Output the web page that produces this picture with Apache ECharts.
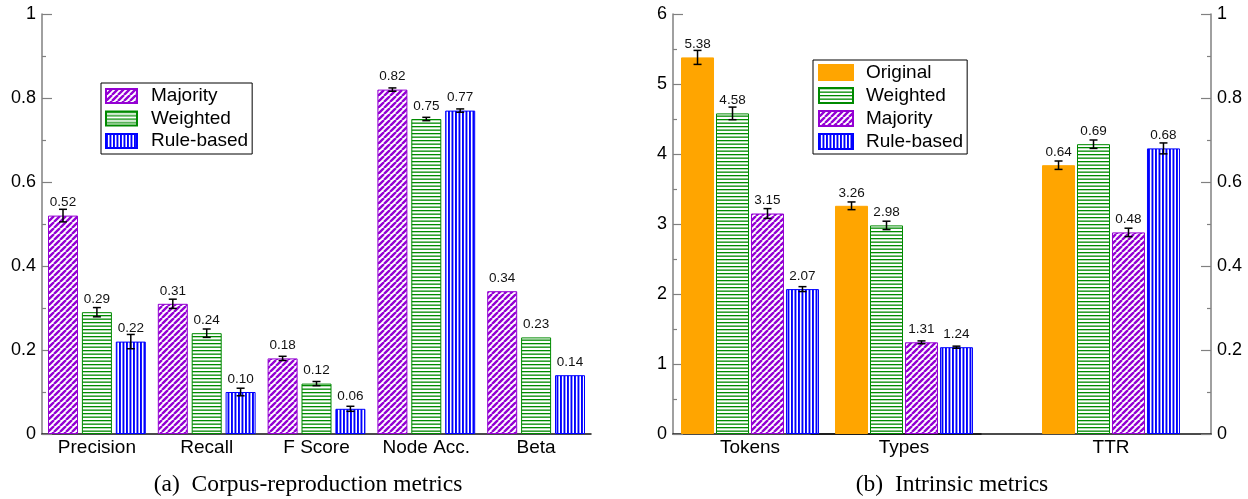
<!DOCTYPE html>
<html>
<head>
<meta charset="utf-8">
<script src="https://cdn.jsdelivr.net/npm/echarts@6/dist/echarts.min.js"></script>
<style>
  html, body { margin: 0; padding: 0; background: #fff; }
  #chart { width: 1248px; height: 499px; }
</style>
</head>
<body>
<div id="chart"></div>
<script>
// (a) Corpus-reproduction metrics
const corpusMetrics = ['Precision', 'Recall', 'F Score', 'Node Acc.', 'Beta'];
const corpusMajority = [0.52, 0.31, 0.18, 0.82, 0.34];
const corpusMajorityErr = [0.015, 0.011, 0.005, 0.004, 0];
const corpusWeighted = [0.29, 0.24, 0.12, 0.75, 0.23];
const corpusWeightedErr = [0.011, 0.010, 0.005, 0.004, 0];
const corpusRule = [0.22, 0.10, 0.06, 0.77, 0.14];
const corpusRuleErr = [0.017, 0.009, 0.006, 0.004, 0];

// (b) Intrinsic metrics: counts on the left axis, TTR on the right axis
const countMetrics = ['Tokens', 'Types'];
const ratioMetrics = ['', 'TTR'];
const countOriginal = [5.38, 3.26];
const countOriginalErr = [0.10, 0.055];
const countWeighted = [4.58, 2.98];
const countWeightedErr = [0.09, 0.06];
const countMajority = [3.15, 1.31];
const countMajorityErr = [0.07, 0.02];
const countRule = [2.07, 1.24];
const countRuleErr = [0.035, 0.015];
const ttrOriginal = 0.64, ttrOriginalErr = 0.010;
const ttrWeighted = 0.69, ttrWeightedErr = 0.010;
const ttrMajority = 0.48, ttrMajorityErr = 0.010;
const ttrRule = 0.68, ttrRuleErr = 0.013;

const leftTicks = [0, 0.2, 0.4, 0.6, 0.8, 1];
const countTicks = [0, 1, 2, 3, 4, 5, 6];

const SANS = '"Liberation Sans", Arial, Helvetica, sans-serif';
const SERIF = '"Liberation Serif", "Times New Roman", serif';
const PURPLE = '#9400d3';
const GREEN = '#008a00';
const BLUE = '#0000ff';
const ORANGE = '#ffa500';

// hatch fills
function makeTile(w, h, draw) {
  const c = document.createElement('canvas');
  c.width = w; c.height = h;
  const ctx = c.getContext('2d');
  ctx.fillStyle = '#fff';
  ctx.fillRect(0, 0, w, h);
  draw(ctx);
  return { image: c, repeat: 'repeat' };
}
const diagFill = makeTile(6, 6, ctx => {
  ctx.strokeStyle = PURPLE;
  ctx.lineWidth = 2.4;
  ctx.beginPath();
  for (let k = -1; k <= 1; k++) { ctx.moveTo(k * 6, 6); ctx.lineTo(k * 6 + 6, 0); }
  ctx.stroke();
});
const horizFill = makeTile(4, 7, ctx => {
  ctx.fillStyle = GREEN;
  ctx.fillRect(0, 0, 4, 1.3);
  ctx.fillRect(0, 3.5, 4, 1.3);
});
const vertFill = makeTile(7, 4, ctx => {
  ctx.fillStyle = BLUE;
  ctx.fillRect(0, 0, 1.9, 4);
  ctx.fillRect(3.5, 0, 1.9, 4);
});

const styles = {
  'Original': { color: ORANGE, borderColor: ORANGE, borderWidth: 1 },
  'Weighted': { color: horizFill, borderColor: GREEN, borderWidth: 1 },
  'Majority': { color: diagFill, borderColor: PURPLE, borderWidth: 1 },
  'Rule-based': { color: vertFill, borderColor: BLUE, borderWidth: 1 }
};

const valueLabel = {
  show: true, position: 'top', distance: 6,
  fontSize: 13.5, fontFamily: SANS, color: '#111',
  formatter: p => (typeof p.value === 'number' ? p.value.toFixed(2) : '')
};

function barSeries(name, xi, yi, data, width, gap) {
  return {
    type: 'bar', name, xAxisIndex: xi, yAxisIndex: yi, data,
    barWidth: width, barGap: gap, itemStyle: styles[name],
    label: valueLabel, emphasis: { disabled: true }, z: 2
  };
}

// error bars placed at the centre of the matching bar within its group
function errorSeries(xi, yi, firstIndex, values, errs, order, count, width, gapRatio) {
  return {
    type: 'custom', xAxisIndex: xi, yAxisIndex: yi, silent: true, z: 5,
    encode: { x: 0, y: 1 },
    data: values.map((v, i) => [firstIndex + i, v, errs[i]]),
    renderItem(params, api) {
      const cat = api.value(0), v = api.value(1), e = api.value(2);
      if (!e) return null;
      const total = count * width + (count - 1) * width * gapRatio;
      const dx = -total / 2 + order * width * (1 + gapRatio) + width / 2;
      const hi = api.coord([cat, v + e]);
      const lo = api.coord([cat, v - e]);
      const x = hi[0] + dx;
      const cap = 4;
      const st = { stroke: '#000', lineWidth: 1.5 };
      return {
        type: 'group',
        children: [
          { type: 'line', shape: { x1: x, y1: hi[1], x2: x, y2: lo[1] }, style: st },
          { type: 'line', shape: { x1: x - cap, y1: hi[1], x2: x + cap, y2: hi[1] }, style: st },
          { type: 'line', shape: { x1: x - cap, y1: lo[1], x2: x + cap, y2: lo[1] }, style: st }
        ]
      };
    }
  };
}

function catAxis(gi, data) {
  return {
    gridIndex: gi, type: 'category', data,
    axisLine: { show: true, lineStyle: { color: '#111', width: 1.5 } },
    axisTick: { show: false },
    axisLabel: { interval: 0, fontSize: 19, fontFamily: SANS, color: '#000', margin: 4 },
    splitLine: { show: false }
  };
}
function valAxis(gi, ticks, position) {
  return {
    gridIndex: gi, type: 'value', position,
    min: ticks[0], max: ticks[ticks.length - 1], interval: ticks[1] - ticks[0],
    axisLine: { show: true, lineStyle: { color: '#808080', width: 1.5 } },
    axisTick: { show: true, inside: true, length: 10, lineStyle: { color: '#808080', width: 1.2 } },
    minorTick: { show: true, splitNumber: 2, length: 4, lineStyle: { color: '#808080', width: 1.2 } },
    axisLabel: { fontSize: 18, fontFamily: SANS, color: '#000', margin: 6 },
    splitLine: { show: false }
  };
}

const LW = 30, LG = 0.13;   // corpus bars
const RW = 33, RG = 0.06;   // intrinsic bars

const option = {
  animation: false,
  backgroundColor: '#fff',
  grid: [
    { left: 42, width: 549, top: 14, bottom: 65 },
    { left: 673, width: 308, top: 14, bottom: 65 },
    { left: 811, width: 400, top: 14, bottom: 65 }
  ],
  xAxis: [catAxis(0, corpusMetrics), catAxis(1, countMetrics), catAxis(2, ratioMetrics)],
  yAxis: [valAxis(0, leftTicks, 'left'), valAxis(1, countTicks, 'left'), valAxis(2, leftTicks, 'right')],
  legend: [
    {
      data: ['Majority', 'Weighted', 'Rule-based'],
      orient: 'vertical', left: 101, top: 83,
      padding: [3.5, 4, 3.5, 4], itemGap: 3.5,
      itemWidth: 31, itemHeight: 14, icon: 'rect',
      borderColor: '#000', borderWidth: 1, selectedMode: false,
      textStyle: { fontSize: 19, fontFamily: SANS, color: '#000', padding: [0, 0, 0, 9] }
    },
    {
      data: ['Original', 'Weighted', 'Majority', 'Rule-based'],
      orient: 'vertical', left: 813, top: 60,
      padding: [3, 4, 3, 5], itemGap: 4,
      itemWidth: 34, itemHeight: 15, icon: 'rect',
      borderColor: '#000', borderWidth: 1, selectedMode: false,
      textStyle: { fontSize: 19, fontFamily: SANS, color: '#000', padding: [0, 0, 0, 8] }
    }
  ],
  series: [
    barSeries('Majority', 0, 0, corpusMajority, LW, '13%'),
    barSeries('Weighted', 0, 0, corpusWeighted, LW, '13%'),
    barSeries('Rule-based', 0, 0, corpusRule, LW, '13%'),
    errorSeries(0, 0, 0, corpusMajority, corpusMajorityErr, 0, 3, LW, LG),
    errorSeries(0, 0, 0, corpusWeighted, corpusWeightedErr, 1, 3, LW, LG),
    errorSeries(0, 0, 0, corpusRule, corpusRuleErr, 2, 3, LW, LG),

    barSeries('Original', 1, 1, countOriginal, RW, '6%'),
    barSeries('Weighted', 1, 1, countWeighted, RW, '6%'),
    barSeries('Majority', 1, 1, countMajority, RW, '6%'),
    barSeries('Rule-based', 1, 1, countRule, RW, '6%'),
    errorSeries(1, 1, 0, countOriginal, countOriginalErr, 0, 4, RW, RG),
    errorSeries(1, 1, 0, countWeighted, countWeightedErr, 1, 4, RW, RG),
    errorSeries(1, 1, 0, countMajority, countMajorityErr, 2, 4, RW, RG),
    errorSeries(1, 1, 0, countRule, countRuleErr, 3, 4, RW, RG),

    barSeries('Original', 2, 2, ['-', ttrOriginal], RW, '6%'),
    barSeries('Weighted', 2, 2, ['-', ttrWeighted], RW, '6%'),
    barSeries('Majority', 2, 2, ['-', ttrMajority], RW, '6%'),
    barSeries('Rule-based', 2, 2, ['-', ttrRule], RW, '6%'),
    errorSeries(2, 2, 1, [ttrOriginal], [ttrOriginalErr], 0, 4, RW, RG),
    errorSeries(2, 2, 1, [ttrWeighted], [ttrWeightedErr], 1, 4, RW, RG),
    errorSeries(2, 2, 1, [ttrMajority], [ttrMajorityErr], 2, 4, RW, RG),
    errorSeries(2, 2, 1, [ttrRule], [ttrRuleErr], 3, 4, RW, RG)
  ],
  graphic: [
    {
      type: 'text', x: 308, y: 485, silent: true,
      style: { text: '(a)  Corpus-reproduction metrics', font: '23.5px ' + SERIF, fill: '#000', align: 'center', verticalAlign: 'middle' }
    },
    {
      type: 'text', x: 952, y: 485, silent: true,
      style: { text: '(b)  Intrinsic metrics', font: '23.5px ' + SERIF, fill: '#000', align: 'center', verticalAlign: 'middle' }
    }
  ]
};

const chart = echarts.init(document.getElementById('chart'), null, { renderer: 'canvas' });
chart.setOption(option);
</script>
</body>
</html>
